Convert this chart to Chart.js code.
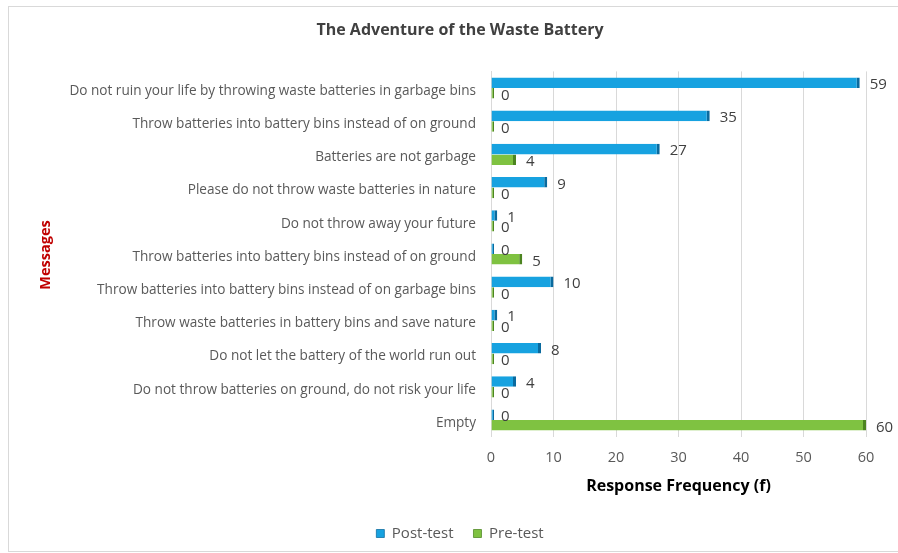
<!DOCTYPE html>
<html>
<head>
<meta charset="utf-8">
<title>The Adventure of the Waste Battery</title>
<script src="https://cdn.jsdelivr.net/npm/chart.js@4/dist/chart.umd.min.js"></script>
<style>
  html, body { margin: 0; padding: 0; background: #ffffff; }
  #wrap { width: 898px; height: 553px; position: relative; }
</style>
</head>
<body>
<div id="wrap"><canvas id="chart" width="898" height="553"></canvas></div>
<script>
// Messages shown to participants, top to bottom
const messages = [
  "Do not ruin your life by throwing waste batteries in garbage bins",
  "Throw batteries into battery bins instead of on ground",
  "Batteries are not garbage",
  "Please do not throw waste batteries in nature",
  "Do not throw away your future",
  "Throw batteries into battery bins instead of on ground",
  "Throw batteries into battery bins instead of on garbage bins",
  "Throw waste batteries in battery bins and save nature",
  "Do not let the battery of the world run out",
  "Do not throw batteries on ground, do not risk your life",
  "Empty"
];

// Response frequencies per message
const postTest = [59, 35, 27, 9, 1, 0, 10, 1, 8, 4, 0];
const preTest  = [0, 0, 4, 0, 0, 5, 0, 0, 0, 0, 60];

// Frequency axis ticks
const freqTicks = [0, 10, 20, 30, 40, 50, 60];

const FONT = "'Open Sans', 'DejaVu Sans', sans-serif";

// White card with a thin grey frame behind the chart
const framePlugin = {
  id: 'frame',
  beforeDraw(chart) {
    const ctx = chart.ctx;
    ctx.save();
    ctx.fillStyle = '#ffffff';
    ctx.fillRect(0, 0, chart.width, chart.height);
    ctx.strokeStyle = '#d9d9d9';
    ctx.lineWidth = 1;
    ctx.strokeRect(8.5, 6.5, chart.width + 10, chart.height - 8);
    ctx.restore();
  }
};

// Rotated "Messages" title placed left of the category labels
const sideTitlePlugin = {
  id: 'sideTitle',
  afterDraw(chart) {
    const ctx = chart.ctx;
    const area = chart.chartArea;
    ctx.save();
    ctx.translate(46, (area.top + area.bottom) / 2 + 1);
    ctx.rotate(-Math.PI / 2);
    ctx.font = "bold 14.5px " + FONT;
    ctx.fillStyle = '#c00000';
    ctx.textAlign = 'center';
    ctx.textBaseline = 'middle';
    ctx.fillText('Messages', 0, 0);
    ctx.restore();
  }
};

// Value labels just past the end of every bar
const valueLabelPlugin = {
  id: 'valueLabels',
  afterDatasetsDraw(chart) {
    const ctx = chart.ctx;
    const xScale = chart.scales.x;
    ctx.save();
    ctx.font = "15px " + FONT;
    ctx.fillStyle = '#404040';
    ctx.textAlign = 'left';
    ctx.textBaseline = 'middle';
    chart.data.datasets.forEach((ds, di) => {
      const meta = chart.getDatasetMeta(di);
      meta.data.forEach((bar, i) => {
        const v = ds.data[i];
        const x = xScale.getPixelForValue(v) + 10;
        ctx.fillText(String(v), x, bar.y + 2);
      });
    });
    ctx.restore();
  }
};

const ctx = document.getElementById('chart').getContext('2d');
new Chart(ctx, {
  type: 'bar',
  data: {
    labels: messages,
    datasets: [
      {
        label: 'Post-test',
        data: postTest,
        backgroundColor: '#17a2e0',
        borderColor: '#0a6a9e',
        borderWidth: { top: 0, bottom: 0, left: 0, right: 3 },
        borderSkipped: false,
        minBarLength: 3
      },
      {
        label: 'Pre-test',
        data: preTest,
        backgroundColor: '#7fc241',
        borderColor: '#4c8420',
        borderWidth: { top: 0, bottom: 0, left: 0, right: 3 },
        borderSkipped: false,
        minBarLength: 3
      }
    ]
  },
  options: {
    indexAxis: 'y',
    responsive: false,
    animation: false,
    events: [],
    layout: { padding: { left: 54, right: 32, top: 0, bottom: 2 } },
    datasets: {
      bar: { categoryPercentage: 0.64, barPercentage: 1.0 }
    },
    scales: {
      x: {
        min: 0,
        max: 60,
        afterBuildTicks(scale) {
          scale.ticks = freqTicks.map(v => ({ value: v }));
        },
        afterFit(scale) { scale.height = 69.4; },
        grid: { color: '#d9d9d9', drawTicks: false },
        border: { display: false },
        ticks: {
          padding: 13,
          color: '#595959',
          font: { family: FONT, size: 14.5 }
        },
        title: {
          display: true,
          text: 'Response Frequency (f)',
          color: '#000000',
          font: { family: FONT, size: 16, weight: 'bold' },
          padding: { top: 0, bottom: 10.4 }
        }
      },
      y: {
        afterFit(scale) { scale.width = 437; },
        grid: { display: false, drawTicks: false },
        border: { display: true, color: '#d9d9d9' },
        ticks: {
          padding: 15,
          labelOffset: 3,
          color: '#595959',
          font: { family: FONT, size: 13.6 },
          autoSkip: false
        }
      }
    },
    plugins: {
      title: {
        display: true,
        text: 'The Adventure of the Waste Battery',
        color: '#404040',
        font: { family: FONT, size: 16, weight: 'bold' },
        padding: { top: 20.4, bottom: 31.8 }
      },
      legend: {
        position: 'bottom',
        labels: {
          boxWidth: 8,
          boxHeight: 8,
          padding: 20,
          color: '#595959',
          font: { family: FONT, size: 15 }
        }
      },
      tooltip: { enabled: false }
    }
  },
  plugins: [framePlugin, sideTitlePlugin, valueLabelPlugin]
});
</script>
</body>
</html>
